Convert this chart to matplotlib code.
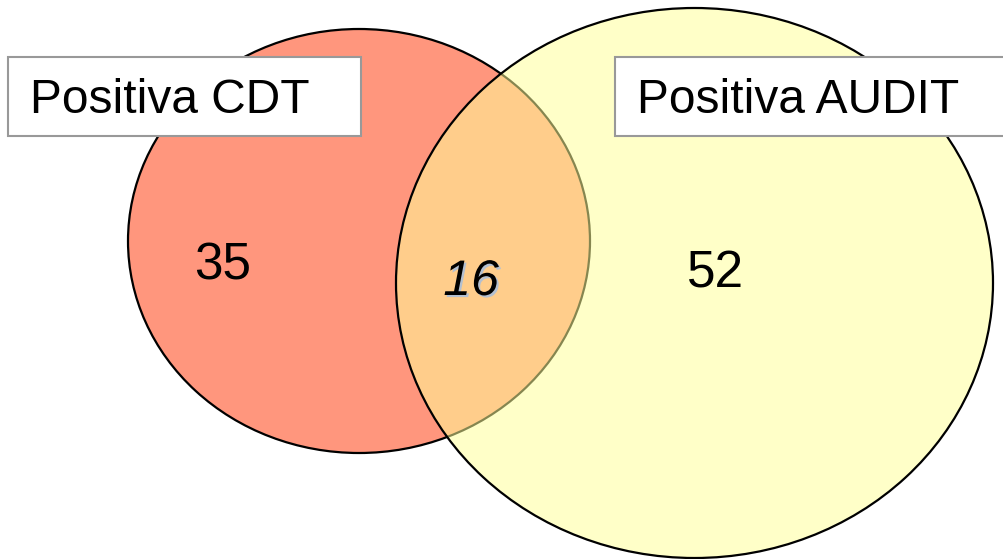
import matplotlib
matplotlib.use("Agg")
import matplotlib.pyplot as plt
from matplotlib.patches import Ellipse, Rectangle
import matplotlib.patheffects as pe

# Venn counts: only CDT positive, both, only AUDIT positive
set_labels = ["Positiva CDT", "Positiva AUDIT"]
only_cdt = 35
both = 16
only_audit = 52

plt.rcParams['font.family'] = ['Liberation Sans', 'DejaVu Sans']

W, H = 1004, 559
fig = plt.figure(figsize=(W / 100, H / 100), dpi=100)
ax = fig.add_axes([0, 0, 1, 1])
ax.set_xlim(0, W)
ax.set_ylim(H, 0)
ax.axis('off')

# CDT set
ax.add_patch(Ellipse((359, 241), 462, 424, facecolor='#ff967d',
                     edgecolor='black', lw=1.6, zorder=1))
# AUDIT set, translucent so the overlap blends to orange
ax.add_patch(Ellipse((694.5, 283), 597, 550, facecolor=(1.0, 1.0, 152 / 255, 0.53),
                     edgecolor='black', lw=1.6, zorder=2))

# Set label boxes
box_kw = dict(facecolor='white', edgecolor='#999999', lw=1.5, zorder=3)
ax.add_patch(Rectangle((8, 57), 353, 79, **box_kw))
ax.add_patch(Rectangle((615, 57), 420, 79, **box_kw))
ax.text(30, 113, set_labels[0], fontsize=34.5, va='baseline', ha='left', zorder=4)
ax.text(637, 113, set_labels[1], fontsize=34.5, va='baseline', ha='left', zorder=4)

# Region counts
ax.text(223, 279, str(only_cdt), fontsize=37, ha='center', va='baseline', zorder=4)
ax.text(716, 287, str(only_audit), fontsize=37, ha='center', va='baseline', zorder=4)
ax.text(471, 295, str(both), fontsize=36, ha='center', va='baseline', style='italic',
        zorder=4,
        path_effects=[pe.withSimplePatchShadow(offset=(1.5, -1.5),
                                               shadow_rgbFace='#b4c0d0', alpha=1.0)])

fig.savefig('out.png', dpi=100)
